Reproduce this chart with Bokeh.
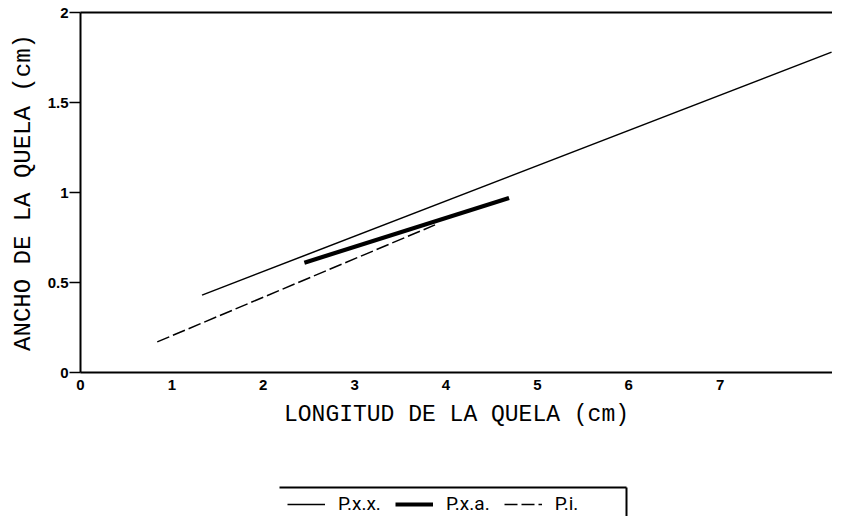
from bokeh.plotting import figure
from bokeh.models import Range1d, FixedTicker, LinearAxis, Legend, LegendItem
from bokeh.layouts import column
from bokeh.embed import file_html
from bokeh.resources import INLINE

# ---- data ----
series_names = ["P.x.x.", "P.x.a.", "P.i."]
pxx_x = [1.33, 8.22]
pxx_y = [0.43, 1.78]
pxa_x = [2.45, 4.69]
pxa_y = [0.61, 0.97]
pi_x = [0.84, 3.88]
pi_y = [0.17, 0.82]

x_ticks = [0, 1, 2, 3, 4, 5, 6, 7]
x_tick_labels = ["0", "1", "2", "3", "4", "5", "6", "7"]
y_ticks = [0, 0.5, 1, 1.5, 2]
y_tick_labels = ["0", "0.5", "1", "1.5", "2"]
x_label = "LONGITUD DE LA QUELA (cm)"
y_label = "ANCHO DE LA QUELA (cm)"

# ---- styles ----
thin = dict(line_color="black", line_width=1.5)
thick = dict(line_color="black", line_width=4.2)
dashed = dict(line_color="black", line_width=1.5, line_dash="13 4")
styles = [thin, thick, dashed]
series = [(pxx_x, pxx_y), (pxa_x, pxa_y), (pi_x, pi_y)]

MONO = "Liberation Mono"
SANS = "Liberation Sans"


def bare_axis():
    return LinearAxis(ticker=FixedTicker(ticks=[]), axis_line_width=2,
                      major_tick_out=0, major_tick_in=0, minor_tick_out=0, minor_tick_in=0)


p = figure(width=832, height=440, x_range=Range1d(0, 8.23), y_range=Range1d(0, 2),
           output_backend="svg", toolbar_location=None, frame_align=False,
           min_border_left=80, min_border_right=0, min_border_top=12, min_border_bottom=68,
           outline_line_color=None, background_fill_color="white", border_fill_color="white")
p.grid.visible = False

for (xs, ys), st in zip(series, styles):
    p.line(xs, ys, **st)

xa = p.xaxis[0]
xa.ticker = FixedTicker(ticks=x_ticks)
xa.major_label_overrides = {t: l for t, l in zip(x_ticks, x_tick_labels)}
xa.axis_label = x_label
xa.major_tick_out = 0
xa.major_tick_in = 0
xa.minor_tick_out = 0
xa.minor_tick_in = 0
xa.major_label_standoff = 7
xa.axis_label_standoff = 9
xa.axis_label_text_font_size = "23px"

ya = p.yaxis[0]
ya.ticker = FixedTicker(ticks=y_ticks)
ya.major_label_overrides = {t: l for t, l in zip(y_ticks, y_tick_labels)}
ya.axis_label = y_label
ya.major_tick_out = 11
ya.major_tick_in = 0
ya.minor_tick_out = 0
ya.minor_tick_in = 0
ya.major_label_standoff = 1
ya.axis_label_standoff = 8
ya.axis_label_text_font_size = "24px"

for ax in (xa, ya):
    ax.axis_line_width = 2
    ax.major_tick_line_width = 1.5
    ax.major_label_text_font = SANS
    ax.major_label_text_font_style = "bold"
    ax.major_label_text_font_size = "15px"
    ax.major_label_text_color = "black"
    ax.axis_label_text_font = MONO
    ax.axis_label_text_font_style = "normal"
    ax.axis_label_text_color = "black"

p.add_layout(bare_axis(), "above")

# ---- legend panel (open box: top and right edges) ----
p2 = figure(width=832, height=76, x_range=Range1d(20, 21), y_range=Range1d(20, 21),
            output_backend="svg", toolbar_location=None, frame_align=False,
            x_axis_location=None, y_axis_location=None,
            min_border_left=279, min_border_right=206, min_border_top=47, min_border_bottom=0,
            outline_line_color=None, background_fill_color="white", border_fill_color="white")
p2.grid.visible = False

# same series again, outside this panel's ranges, only to feed the legend glyphs
leg_renderers = [p2.line(xs, ys, **st) for (xs, ys), st in zip(series, styles)]

p2.add_layout(bare_axis(), "above")
p2.add_layout(bare_axis(), "right")

legend = Legend(items=[LegendItem(label=n, renderers=[r]) for n, r in zip(series_names, leg_renderers)],
                orientation="horizontal", location=(8, 1),
                border_line_color=None, background_fill_alpha=0,
                padding=0, margin=0, spacing=14, label_standoff=13,
                glyph_width=38, glyph_height=20, label_height=20,
                label_text_font="Roboto", label_text_font_size="19px",
                label_text_color="black")
p2.add_layout(legend, "center")

layout = column(p, p2)
open("out.html", "w").write(file_html(layout, INLINE))
